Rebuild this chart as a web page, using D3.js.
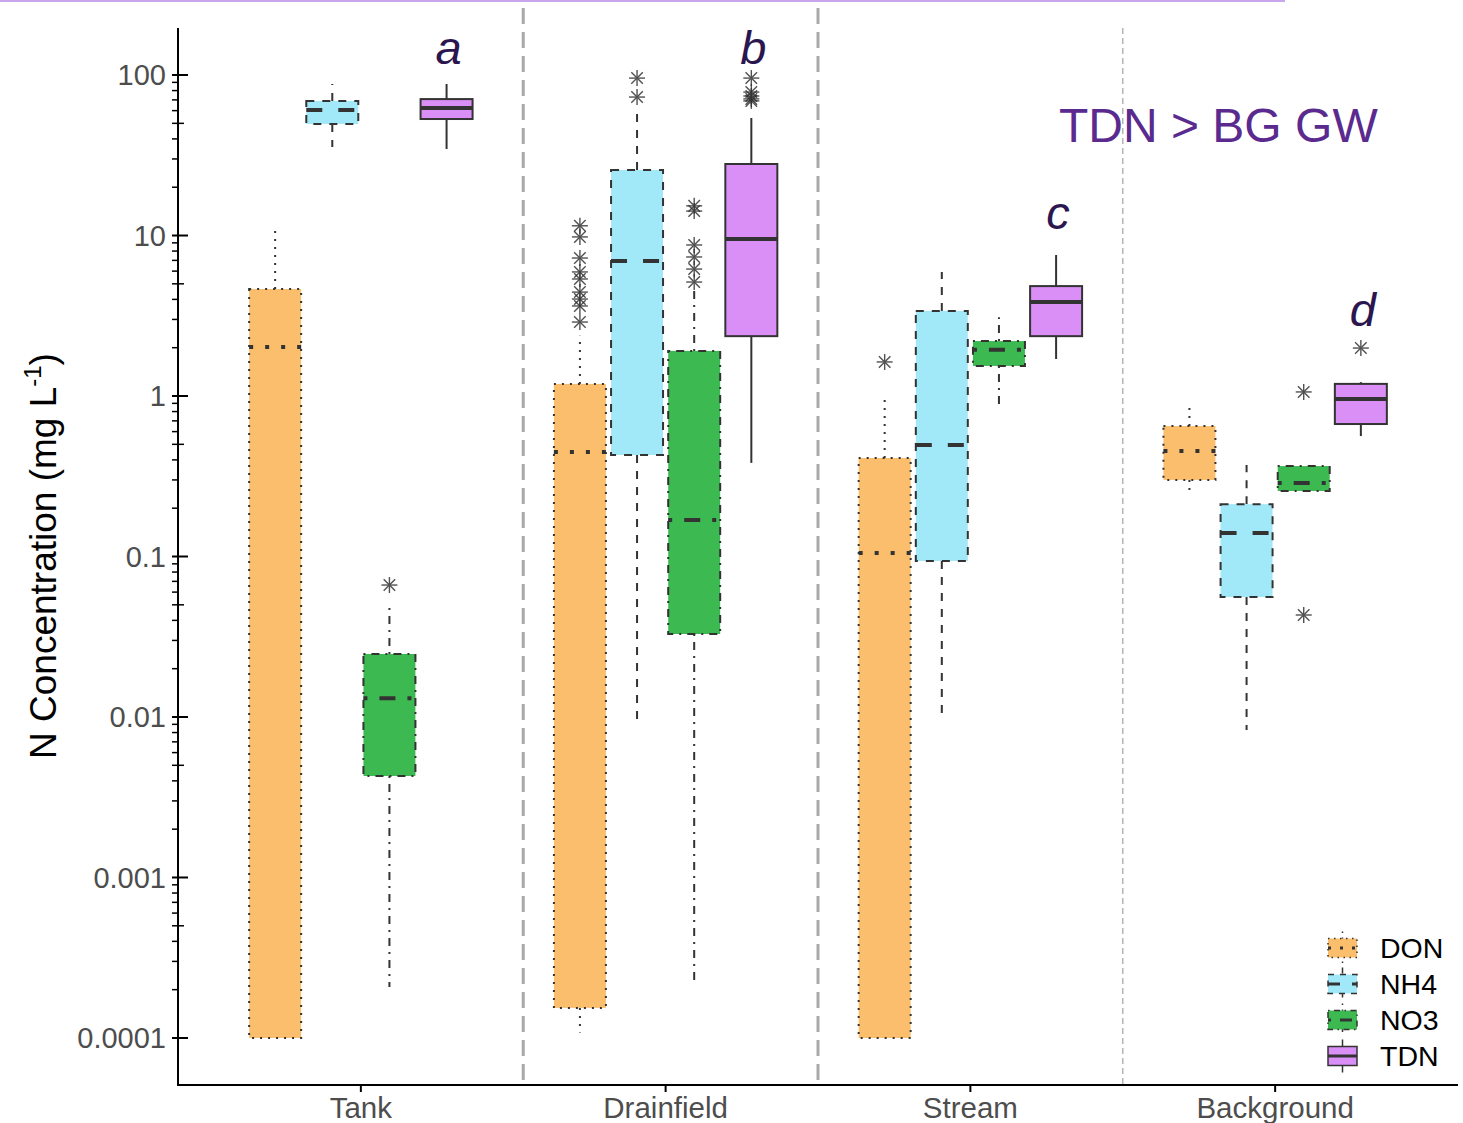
<!DOCTYPE html>
<html>
<head>
<meta charset="utf-8">
<script src="https://cdn.jsdelivr.net/npm/d3@7"></script>
<style>
  html, body { margin: 0; padding: 0; background: #fff; }
  svg { display: block; font-family: "Liberation Sans", Arial, sans-serif; }
</style>
</head>
<body>
<svg id="chart" width="1463" height="1123"></svg>
<script>
// Sites along the flow path and the nitrogen species measured at each
const categories = ["Tank", "Drainfield", "Stream", "Background"];
const series = ["DON", "NH4", "NO3", "TDN"];

// Box summaries per site: [lower whisker, Q1, median, Q3, upper whisker] (mg/L)
const DON = [[0.0001, 0.0001, 2.02, 4.64, 10.7], [0.000108, 0.000154, 0.448, 1.19, 2.37], [0.0001, 0.0001, 0.105, 0.411, 0.958], [0.238, 0.300, 0.454, 0.650, 0.854]];
const NH4 = [[35.6, 49.5, 60.5, 68.9, 87.9], [0.0097, 0.429, 6.93, 25.6, 57.1], [0.01045, 0.0938, 0.495, 3.39, 5.93], [0.0083, 0.0559, 0.140, 0.212, 0.372]];
const NO3 = [[0.000208, 0.00429, 0.0131, 0.0247, 0.0484], [0.000223, 0.0329, 0.169, 1.91, 4.64], [0.892, 1.54, 1.94, 2.20, 3.10], [0.256, 0.256, 0.287, 0.366, 0.366]];
const TDN = [[34.6, 53.2, 62.3, 70.8, 87.9], [0.383, 2.36, 9.51, 27.9, 54.0], [1.70, 2.36, 3.85, 4.84, 7.56], [0.563, 0.669, 0.958, 1.19, 1.22]];

// Outlying samples per site
const outDON = [[], [11.5, 9.8, 7.24, 5.93, 5.36, 4.44, 4.02, 3.64, 2.89], [1.63], []];
const outNH4 = [[], [95.7, 72.9], [], []];
const outNO3 = [[0.0664], [15.3, 14.2, 8.73, 7.35, 6.18, 5.13], [], [1.06, 0.0432]];
const outTDN = [[], [95.7, 78.3, 74.0, 71.0, 69.0], [], [1.99]];

// Y axis tick values and labels
const tickValues = [0.0001, 0.001, 0.01, 0.1, 1, 10, 100];
const tickLabels = ["0.0001", "0.001", "0.01", "0.1", "1", "10", "100"];

// Significance letters for TDN at each site (label, concentration)
const letters = [["a", 117], ["b", 117], ["c", 11.0], ["d", 2.73]];

const stats = { DON, NH4, NO3, TDN };
const outliers = { DON: outDON, NH4: outNH4, NO3: outNO3, TDN: outTDN };

const fills = { DON: "#fbbe6c", NH4: "#a1e9f9", NO3: "#3cb950", TDN: "#d98ff6" };
// dash patterns in units of line width (R style: dotted, dashed, dotdash, solid)
const dashUnits = { DON: [1, 3], NH4: [4, 4], NO3: [1, 3, 4, 3], TDN: null };
const dash = (s, lw) => dashUnits[s] ? dashUnits[s].map(d => d * lw).join(",") : null;

const svg = d3.select("#chart");
const plotL = 178, plotR = 1458, plotT = 28, plotB = 1085;

// discrete site positions with 0.6 step of expansion on either side
const step = (plotR - plotL) / (categories.length - 1 + 1.2);
const xPos = d3.scalePoint().domain(categories).range([plotL + 0.6 * step, plotR - 0.6 * step]);
const dodge = d3.scaleBand().domain(series).range([-0.375 * step, 0.375 * step]).paddingInner(0.09).paddingOuter(0.045);

const y = d3.scaleLog().domain([Math.pow(10, -4.293), Math.pow(10, 2.293)]).range([plotB, plotT]);

// thin purple rule across the top edge
svg.append("rect").attr("x", 0).attr("y", 0).attr("width", 1285).attr("height", 2).attr("fill", "#c8a6ec");

// site separators
const sepX = [plotL + step * 1.1 + 10, plotL + step * 2.1, plotL + step * 3.1];
svg.append("line").attr("x1", sepX[0]).attr("x2", sepX[0]).attr("y1", 8).attr("y2", plotB)
  .attr("stroke", "#a9a9a9").attr("stroke-width", 3).attr("stroke-dasharray", "16,8");
svg.append("line").attr("x1", sepX[1]).attr("x2", sepX[1]).attr("y1", 8).attr("y2", plotB)
  .attr("stroke", "#a9a9a9").attr("stroke-width", 3).attr("stroke-dasharray", "16,8");
svg.append("line").attr("x1", sepX[2]).attr("x2", sepX[2]).attr("y1", 28).attr("y2", plotB)
  .attr("stroke", "#b5b5b5").attr("stroke-width", 1.5).attr("stroke-dasharray", "6,4");

// boxes
const lw = 2, medLw = 4, boxCol = "#333333";
const bw = dodge.bandwidth();
const g = svg.append("g");
categories.forEach((c, ci) => {
  series.forEach(s => {
    const [lo, q1, med, q3, hi] = stats[s][ci];
    const xc = xPos(c) + dodge(s) + bw / 2;
    const x0 = xc - bw / 2;
    // whiskers
    if (hi > q3) g.append("line").attr("x1", xc).attr("x2", xc).attr("y1", y(q3)).attr("y2", y(hi))
      .attr("stroke", boxCol).attr("stroke-width", lw).attr("stroke-dasharray", dash(s, lw));
    if (lo < q1) g.append("line").attr("x1", xc).attr("x2", xc).attr("y1", y(q1)).attr("y2", y(lo))
      .attr("stroke", boxCol).attr("stroke-width", lw).attr("stroke-dasharray", dash(s, lw));
    // box
    g.append("rect").attr("x", x0).attr("y", y(q3)).attr("width", bw).attr("height", Math.max(0, y(q1) - y(q3)))
      .attr("fill", fills[s]).attr("stroke", boxCol).attr("stroke-width", lw).attr("stroke-dasharray", dash(s, lw));
    // median
    g.append("line").attr("x1", x0).attr("x2", x0 + bw).attr("y1", y(med)).attr("y2", y(med))
      .attr("stroke", boxCol).attr("stroke-width", medLw).attr("stroke-dasharray", dash(s, medLw));
    // outliers as asterisks
    outliers[s][ci].forEach(v => {
      const r = 8, py = y(v);
      const star = g.append("g").attr("transform", `translate(${xc},${py})`)
        .attr("stroke", "#333").attr("stroke-width", 1.4).attr("opacity", 0.85);
      star.append("line").attr("x1", -r).attr("x2", r).attr("y1", 0).attr("y2", 0);
      star.append("line").attr("x1", 0).attr("x2", 0).attr("y1", -r).attr("y2", r);
      star.append("line").attr("x1", -r * 0.72).attr("x2", r * 0.72).attr("y1", -r * 0.72).attr("y2", r * 0.72);
      star.append("line").attr("x1", -r * 0.72).attr("x2", r * 0.72).attr("y1", r * 0.72).attr("y2", -r * 0.72);
    });
  });
});

// significance letters above TDN
letters.forEach(([t, v], i) => {
  svg.append("text").attr("x", xPos(categories[i]) + dodge("TDN") + bw / 2 + 2).attr("y", y(v))
    .attr("text-anchor", "middle").attr("font-size", 47).attr("font-style", "italic")
    .attr("fill", "#2b1650").text(t);
});

svg.append("text").attr("x", 1059).attr("y", 142).attr("font-size", 48).attr("fill", "#5a2a8e").text("TDN > BG GW");

// y axis
const yAxis = svg.append("g");
yAxis.append("line").attr("x1", plotL).attr("x2", plotL).attr("y1", plotT).attr("y2", plotB).attr("stroke", "#000").attr("stroke-width", 2);
tickValues.forEach((v, i) => {
  yAxis.append("line").attr("x1", plotL - 6).attr("x2", plotL + 10).attr("y1", y(v)).attr("y2", y(v)).attr("stroke", "#000").attr("stroke-width", 2);
  yAxis.append("text").attr("x", plotL - 12).attr("y", y(v)).attr("dy", "0.36em").attr("text-anchor", "end")
    .attr("font-size", 29).attr("fill", "#4d4d4d").text(tickLabels[i]);
  if (v < 100) {
    for (let m = 2; m <= 9; m++) {
      const mv = v * m;
      yAxis.append("line").attr("x1", plotL - 6).attr("x2", m === 5 ? plotL + 6 : plotL)
        .attr("y1", y(mv)).attr("y2", y(mv)).attr("stroke", "#000").attr("stroke-width", 1.5);
    }
  }
});

svg.append("text").attr("transform", `translate(56,556) rotate(-90)`).attr("text-anchor", "middle")
  .attr("font-size", 37).attr("fill", "#000")
  .call(t => {
    t.append("tspan").text("N Concentration (mg L");
    t.append("tspan").attr("dy", -15).attr("font-size", 24).text("-1");
    t.append("tspan").attr("dy", 15).text(")");
  });

// x axis
const xAxis = svg.append("g");
xAxis.append("line").attr("x1", plotL - 1).attr("x2", plotR).attr("y1", plotB).attr("y2", plotB).attr("stroke", "#000").attr("stroke-width", 2);
categories.forEach(c => {
  xAxis.append("line").attr("x1", xPos(c)).attr("x2", xPos(c)).attr("y1", plotB).attr("y2", plotB + 7).attr("stroke", "#000").attr("stroke-width", 2);
  xAxis.append("text").attr("x", xPos(c)).attr("y", plotB + 33).attr("text-anchor", "middle")
    .attr("font-size", 29.5).attr("fill", "#4d4d4d").text(c);
});

// legend
const leg = svg.append("g");
series.forEach((s, i) => {
  const yc = 948 + i * 36, kx = 1328, kw = 29, kh = 19;
  const kg = leg.append("g");
  kg.append("line").attr("x1", kx + kw / 2).attr("x2", kx + kw / 2).attr("y1", yc - kh / 2 - 7).attr("y2", yc + kh / 2 + 7)
    .attr("stroke", boxCol).attr("stroke-width", 1.5).attr("stroke-dasharray", dash(s, 1.5));
  kg.append("rect").attr("x", kx).attr("y", yc - kh / 2).attr("width", kw).attr("height", kh)
    .attr("fill", fills[s]).attr("stroke", boxCol).attr("stroke-width", 1.5).attr("stroke-dasharray", dash(s, 1.5));
  kg.append("line").attr("x1", kx).attr("x2", kx + kw).attr("y1", yc).attr("y2", yc)
    .attr("stroke", boxCol).attr("stroke-width", 3).attr("stroke-dasharray", dash(s, 3));
  leg.append("text").attr("x", 1380).attr("y", yc).attr("dy", "0.36em").attr("font-size", 28.5).attr("fill", "#000").text(s);
});
</script>
</body>
</html>
